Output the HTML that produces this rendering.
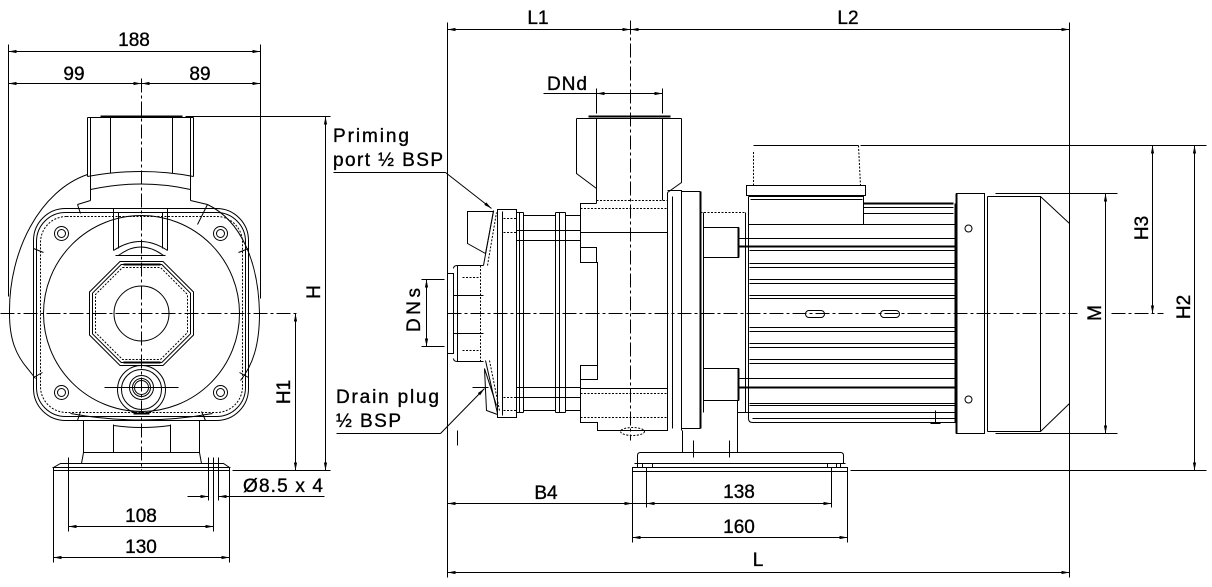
<!DOCTYPE html>
<html><head><meta charset="utf-8"><style>
html,body{margin:0;padding:0;background:#fff;}
svg{display:block;}
.s{fill:none;stroke:#000;stroke-width:1;}
.t{stroke-width:2;}
.c{stroke-dasharray:14 3 3 3;}
.o{stroke-dasharray:2 1.5;}
.d{marker-start:url(#a);marker-end:url(#a);}
.e{marker-end:url(#a);}
text{font-family:"Liberation Sans",Arial,sans-serif;font-size:19px;fill:#000;stroke:#000;stroke-width:0.35px;}
</style></head><body>
<svg width="1212" height="587" viewBox="0 0 1212 587" xmlns="http://www.w3.org/2000/svg">
<defs><marker id="a" viewBox="0 0 8 4" markerUnits="userSpaceOnUse" markerWidth="8" markerHeight="4" refX="8" refY="2" orient="auto-start-reverse"><path d="M0,0.4L8,2L0,3.6Z" fill="#000"/></marker></defs>
<rect width="1212" height="587" fill="#fff"/>
<g class="s" transform="translate(0.5,0.5)">
<!-- LEFT VIEW dimensions -->
<line class="d" x1="8" y1="51" x2="260" y2="51"/>
<line class="d" x1="8" y1="83" x2="141" y2="83"/>
<line class="d" x1="141" y1="83" x2="260" y2="83"/>
<line x1="8" y1="44" x2="8" y2="296"/>
<line x1="260" y1="44" x2="260" y2="298"/>
<line class="c" x1="141" y1="78" x2="141" y2="470"/>
<line class="c" x1="0" y1="313" x2="298" y2="313"/>
<line x1="185" y1="116" x2="330" y2="116"/>
<line class="d" x1="325" y1="116" x2="325" y2="470"/>
<line class="d" x1="295" y1="313" x2="295" y2="470"/>
<line x1="232" y1="470" x2="330" y2="470"/>
<line class="d" x1="68" y1="526" x2="213" y2="526"/>
<line class="d" x1="53" y1="557" x2="229" y2="557"/>
<line x1="53" y1="470" x2="53" y2="562"/>
<line x1="229" y1="470" x2="229" y2="562"/>
<line x1="68" y1="457" x2="68" y2="531"/>
<line x1="213" y1="457" x2="213" y2="531"/>
<line x1="208" y1="457" x2="208" y2="500"/>
<line x1="218" y1="457" x2="218" y2="500"/>
<line class="e" x1="187" y1="496" x2="208" y2="496"/>
<line class="e" x1="324" y1="496" x2="218" y2="496"/>
<!-- LEFT VIEW outlet -->
<path d="M87,117H193"/>
<path class="t" d="M100,116H182"/>
<path d="M87,117V176M90,117V200M193,117V176M190,117V200M110,117V173M172,117V173"/>
<path d="M87,176Q141,166 193,176M90,189Q141,178 190,189"/>
<path d="M90,200L77,204M190,200L207,204"/>
<!-- volute -->
<path d="M87,174C40,190 8,250 9,313C9,340 16,355 27,368L35,378"/>
<path d="M207,204C240,220 258,260 259,313C259,345 252,365 240,380"/>
<!-- housing -->
<rect x="33" y="208" width="215" height="212" rx="32"/>
<rect x="36" y="212" width="209" height="204" rx="29"/>
<rect x="40" y="216" width="202" height="196" rx="26" class="o"/>
<path d="M77,204L80,213M207,204L197,224M33,248L43,252M248,248L238,252M33,377L42,372M248,377L239,372M77,420L80,411M205,420L201,411"/>
<circle cx="141" cy="313" r="98"/>
<circle cx="61" cy="233" r="7"/><circle cx="61" cy="233" r="4"/>
<circle cx="220" cy="233" r="7"/><circle cx="220" cy="233" r="4"/>
<circle cx="61" cy="392" r="7"/><circle cx="61" cy="392" r="4"/>
<circle cx="220" cy="392" r="7"/><circle cx="220" cy="392" r="4"/>
<!-- inlet box -->
<path d="M113,208H167V250M113,208V250M118,212V248M162,212V248M113,250Q140,232 167,250M118,255Q140,238 163,255M115,255H165"/>
<!-- octagon -->
<polygon points="119.5,261 162.5,261 193,291.5 193,334.5 162.5,365 119.5,365 89,334.5 89,291.5"/>
<polygon points="120.7,264 161.3,264 190,292.7 190,333.3 161.3,362 120.7,362 92,333.3 92,292.7"/>
<polygon points="122,267 160,267 187,294 187,332 160,359 122,359 95,332 95,294" class="o"/>
<path class="t" d="M123,264H160M123,362H160"/>
<circle cx="141" cy="313" r="27.5"/>
<!-- drain -->
<circle cx="141" cy="389" r="24"/><circle cx="141" cy="389" r="20"/>
<circle cx="141" cy="387" r="12"/><circle cx="141" cy="387" r="9"/><circle cx="141" cy="387" r="7"/>
<line x1="104" y1="387" x2="178" y2="387"/>
<path class="t" d="M133,413H149"/>
<!-- bottom / foot -->
<path d="M70,413Q141,426 212,413"/>
<path d="M83,420V452M199,420V452M113,424V452M170,424V452M113,425Q141,429 170,425"/>
<path d="M83,452H199M83,452L81,463M199,452L201,463"/>
<path d="M60,463H223L229,467H53Z"/>
<path d="M53,467V470H229V467"/>
<!-- MIDDLE/RIGHT VIEW dimensions -->
<line x1="447" y1="22" x2="447" y2="577"/>
<line class="c" x1="630" y1="20" x2="630" y2="440"/>
<line x1="1069" y1="22" x2="1069" y2="577"/>
<line class="d" x1="447" y1="29" x2="630" y2="29"/>
<line class="d" x1="630" y1="29" x2="1069" y2="29"/>
<line x1="543" y1="93" x2="596" y2="93"/>
<line class="d" x1="596" y1="93" x2="662" y2="93"/>
<line x1="596" y1="88" x2="596" y2="113"/>
<line x1="662" y1="88" x2="662" y2="113"/>
<line x1="421" y1="279" x2="444" y2="279"/>
<line x1="421" y1="346" x2="444" y2="346"/>
<line class="d" x1="426" y1="279" x2="426" y2="346"/>
<line x1="333" y1="172" x2="445" y2="172"/>
<line class="e" x1="445" y1="172" x2="491" y2="208"/>
<line x1="336" y1="433" x2="440" y2="433"/>
<line class="e" x1="440" y1="433" x2="484" y2="388"/>
<line class="c" x1="447" y1="313" x2="1077" y2="313"/>
<line class="c" x1="1111" y1="313" x2="1163" y2="313"/>
<line class="d" x1="447" y1="503" x2="632" y2="503"/>
<line x1="632" y1="503" x2="646" y2="503"/>
<line class="d" x1="646" y1="503" x2="831" y2="503"/>
<line class="d" x1="632" y1="537" x2="847" y2="537"/>
<line class="d" x1="447" y1="572" x2="1069" y2="572"/>
<line x1="646" y1="467" x2="646" y2="507"/>
<line x1="831" y1="467" x2="831" y2="507"/>
<line x1="632" y1="471" x2="632" y2="542"/>
<line x1="847" y1="471" x2="847" y2="542"/>
<line x1="860" y1="145" x2="1206" y2="145"/>
<line x1="995" y1="193" x2="1117" y2="193"/>
<line x1="995" y1="433" x2="1117" y2="433"/>
<line x1="850" y1="470" x2="1206" y2="470"/>
<line class="d" x1="1105" y1="193" x2="1105" y2="433"/>
<line class="d" x1="1152" y1="145" x2="1152" y2="313"/>
<line class="d" x1="1194" y1="145" x2="1194" y2="470"/>
<!-- outlet side -->
<path class="t" d="M588,116H670"/>
<path d="M576,118H681M576,118V173L596,188V203M681,118V182L667,192M596,118V188M662,118V200"/>
<path class="o" d="M596,200H667M580,208H667M580,393H667M580,417H667"/>
<!-- casing -->
<path d="M596,203H580V262H597V365H580V422H597V430H667V192"/>
<path d="M580,247H596V262M580,379H597V365M580,232H667M580,388H667"/>
<ellipse cx="632" cy="431" rx="12" ry="4" class="o"/>
<!-- flanges -->
<path d="M667,190H681V430M672,196V428M681,191H700"/>
<path class="t" d="M700,191V428"/>
<path d="M681,428H700M703,212V412"/>
<!-- suction -->
<rect x="447" y="273" width="6" height="80"/>
<path d="M453,268Q453,265 457,265H483M453,358Q453,361 457,361H483M453,295H483M453,333H483M457,265V361"/>
<path class="o" d="M480,265V361M462,277H480M462,350H480"/>
<path d="M483,265L493,210M485,360L497,413"/>
<path class="o" d="M487,265L496,212M489,360L499,410"/>
<path d="M467,211H493L485,253L467,243Z"/>
<path d="M484,368L486,410L497,414M484,368L496,405M472,387H488"/>
<line x1="457" y1="430" x2="457" y2="445"/>
<!-- front cover -->
<path d="M497,209H516V417H497ZM502,211V415"/>
<path class="o" d="M503,218H516M503,232H516M503,397H516M503,410H516"/>
<!-- sleeve -->
<path d="M516,212H523M523,215H555M555,212H565M565,215H580M516,412H523M523,410H555M555,412H565M565,410H580"/>
<path d="M519,212V412M523,212V412M555,212V412M559,212V412M565,212V412"/>
<path d="M516,230H580M516,240H580M516,387H580M516,397H580"/>
<!-- adapter -->
<path class="o" d="M700,212H745"/>
<path d="M703,227H738V257H703M703,368H738V400H703"/>
<path class="t" d="M738,227V257M738,368V400"/>
<path d="M745,212V412M737,412H749"/>
<path d="M738,238H955M738,378H955"/>
<path class="t" d="M738,246H955M738,387H955"/>
<!-- terminal box -->
<path class="o" d="M753,185V150M858,145L860,185"/>
<path d="M753,145H858"/>
<rect x="746" y="185" width="119" height="10"/>
<path d="M748,196H863V224M748,196V418Q748,422 752,422M750,199H862"/>
<path class="t" d="M863,203H953"/>
<path d="M863,207H953M863,213H953M748,224H955"/>
<path d="M749,250H955M749,263H955M749,267H955M749,279H955M749,283H955M749,295H955M749,298H955M749,327H955M749,331H955M749,343H955M749,347H955M749,359H955M749,363H955M749,403H955M749,405H955M749,412H955M752,418H955M752,422H955"/>
<path class="t" d="M955,203V422"/>
<path d="M935,410V423M930,423H940"/>
<rect x="805" y="310" width="19" height="7" rx="3.5"/>
<rect x="880" y="310" width="19" height="7" rx="3.5"/>
<!-- fan cover -->
<rect x="956" y="193" width="28" height="240"/>
<path class="t" d="M956,193V433"/>
<path d="M987,196V431M987,196H1040L1069,223M1040,196V431M987,431H1040L1069,403"/>
<circle cx="968" cy="228" r="3.5"/>
<circle cx="968" cy="399" r="3.5"/>
<!-- base -->
<path d="M637,463V455Q637,452 640,452H840Q843,452 843,455V463"/>
<path d="M634,463H845M632,467H847V471H632Z"/>
<path d="M637,463V467M642,463V467M652,463V467M827,463V467M836,463V467M840,463V467"/>
<path d="M682,430V452M737,400V452M693,440V457M729,440V457"/>
</g>
<!-- TEXT -->
<text x="134" y="46" text-anchor="middle">188</text>
<text x="74" y="80" text-anchor="middle">99</text>
<text x="200" y="80" text-anchor="middle">89</text>
<text x="141" y="522" text-anchor="middle">108</text>
<text x="141" y="553" text-anchor="middle">130</text>
<text x="243" y="492" textLength="80" lengthAdjust="spacing">Ø8.5 x 4</text>
<text transform="translate(320,292) rotate(-90)" text-anchor="middle">H</text>
<text transform="translate(290,392) rotate(-90)" text-anchor="middle">H1</text>
<text x="538" y="24" text-anchor="middle">L1</text>
<text x="848" y="24" text-anchor="middle">L2</text>
<text x="547" y="90" textLength="40" lengthAdjust="spacing">DNd</text>
<text x="333" y="142" textLength="76" lengthAdjust="spacing">Priming</text>
<text x="333" y="166" textLength="110" lengthAdjust="spacing">port ½ BSP</text>
<text x="336" y="403" textLength="103" lengthAdjust="spacing">Drain plug</text>
<text x="336" y="427" textLength="65" lengthAdjust="spacing">½ BSP</text>
<text transform="translate(420,310) rotate(-90)" text-anchor="middle" textLength="44" lengthAdjust="spacing">DNs</text>
<text x="546" y="499" text-anchor="middle">B4</text>
<text x="739" y="498" text-anchor="middle">138</text>
<text x="739" y="533" text-anchor="middle">160</text>
<text x="758" y="566" text-anchor="middle">L</text>
<text transform="translate(1101,313) rotate(-90)" text-anchor="middle">M</text>
<text transform="translate(1148,228) rotate(-90)" text-anchor="middle">H3</text>
<text transform="translate(1190,307) rotate(-90)" text-anchor="middle">H2</text>
</svg>
</body></html>
